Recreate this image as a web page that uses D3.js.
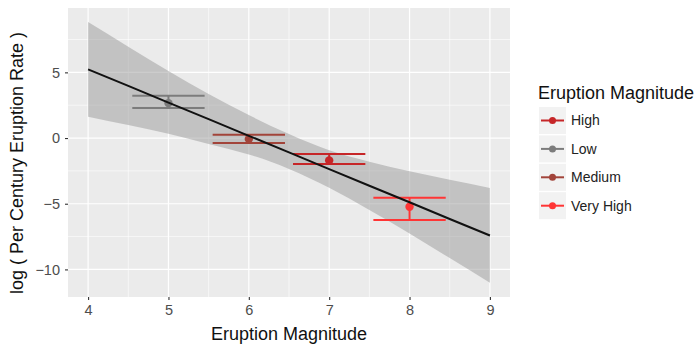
<!DOCTYPE html>
<html>
<head>
<meta charset="utf-8">
<script src="https://cdn.jsdelivr.net/npm/d3@7"></script>
<style>
  body { margin: 0; background: #fff; }
  svg { display: block; font-family: "Liberation Sans", Arial, sans-serif; }
</style>
</head>
<body>
<svg id="chart" width="694" height="349"></svg>
<script>
// categories and per-category error bars
const categories = ["High", "Low", "Medium", "Very High"];
const magnitude = [7, 5, 6, 8];
const rateMean = [-1.71, 2.66, -0.08, -5.23];
const rateLow = [-1.98, 2.28, -0.38, -6.24];
const rateHigh = [-1.22, 3.22, 0.25, -4.54];
const barColors = ["#c62628", "#7c7c7c", "#a2443a", "#ff3535"];

// fitted line and its ribbon, read at half-magnitude steps
const fitX = [4, 4.5, 5, 5.5, 6, 6.5, 7, 7.5, 8, 8.5, 9];
const fitY = [5.23, 3.97, 2.70, 1.44, 0.17, -1.09, -2.36, -3.63, -4.89, -6.16, -7.42];
const fitLower = [1.63, 0.99, 0.32, -0.45, -1.25, -2.35, -3.79, -5.48, -7.27, -9.14, -11.02];
const fitUpper = [8.83, 6.95, 5.10, 3.35, 1.75, 0.30, -0.93, -1.80, -2.53, -3.18, -3.80];

const xTicks = [4, 5, 6, 7, 8, 9];
const xMinor = [4.5, 5.5, 6.5, 7.5, 8.5];
const yTicks = [-10, -5, 0, 5];
const yMinor = [-7.5, -2.5, 2.5, 7.5];

const panel = { left: 68, right: 510, top: 8, bottom: 297 };
const svg = d3.select('#chart');

const x = d3.scaleLinear().domain([3.75, 9.25]).range([panel.left, panel.right]);
const y = d3.scaleLinear().domain([-12.1, 9.9]).range([panel.bottom, panel.top]);
const color = d3.scaleOrdinal().domain(categories).range(barColors);

// panel background + grid
svg.append('rect')
    .attr('x', panel.left).attr('y', panel.top)
    .attr('width', panel.right - panel.left)
    .attr('height', panel.bottom - panel.top)
    .attr('fill', '#ebebeb');

const grid = svg.append('g');
grid.selectAll('.ymin').data(yMinor).enter().append('line')
    .attr('x1', panel.left).attr('x2', panel.right)
    .attr('y1', d => y(d)).attr('y2', d => y(d))
    .attr('stroke', '#fff').attr('stroke-width', 0.6);
grid.selectAll('.xmin').data(xMinor).enter().append('line')
    .attr('y1', panel.top).attr('y2', panel.bottom)
    .attr('x1', d => x(d)).attr('x2', d => x(d))
    .attr('stroke', '#fff').attr('stroke-width', 0.6);
grid.selectAll('.ymaj').data(yTicks).enter().append('line')
    .attr('x1', panel.left).attr('x2', panel.right)
    .attr('y1', d => y(d)).attr('y2', d => y(d))
    .attr('stroke', '#fff').attr('stroke-width', 1.2);
grid.selectAll('.xmaj').data(xTicks).enter().append('line')
    .attr('y1', panel.top).attr('y2', panel.bottom)
    .attr('x1', d => x(d)).attr('x2', d => x(d))
    .attr('stroke', '#fff').attr('stroke-width', 1.2);

// ribbon first, so the bars stay vivid on top of it
const fit = fitX.map((v, i) => ({ x: v, y: fitY[i], lo: fitLower[i], hi: fitUpper[i] }));
svg.append('path')
    .datum(fit)
    .attr('fill', '#999999')
    .attr('fill-opacity', 0.5)
    .attr('d', d3.area()
        .curve(d3.curveNatural)
        .x(d => x(d.x))
        .y0(d => y(d.lo))
        .y1(d => y(d.hi)));

// error bars
const bars = categories.map((c, i) => ({
    cat: c, x: magnitude[i], y: rateMean[i], lo: rateLow[i], hi: rateHigh[i]
}));
const halfW = 0.45;
const eb = svg.append('g').selectAll('g').data(bars).enter().append('g')
    .attr('stroke', d => color(d.cat))
    .attr('stroke-width', 2);
eb.append('line')
    .attr('x1', d => x(d.x - halfW)).attr('x2', d => x(d.x + halfW))
    .attr('y1', d => y(d.hi)).attr('y2', d => y(d.hi));
eb.append('line')
    .attr('x1', d => x(d.x - halfW)).attr('x2', d => x(d.x + halfW))
    .attr('y1', d => y(d.lo)).attr('y2', d => y(d.lo));
eb.append('line')
    .attr('x1', d => x(d.x)).attr('x2', d => x(d.x))
    .attr('y1', d => y(d.lo)).attr('y2', d => y(d.hi));

svg.append('g').selectAll('circle').data(bars).enter().append('circle')
    .attr('cx', d => x(d.x)).attr('cy', d => y(d.y))
    .attr('r', 4.2)
    .attr('fill', d => color(d.cat));

svg.append('path')
    .datum(fit)
    .attr('fill', 'none')
    .attr('stroke', '#111')
    .attr('stroke-width', 2)
    .attr('d', d3.line().x(d => x(d.x)).y(d => y(d.y)));

// axes
const xAxis = svg.append('g')
    .attr('transform', `translate(0,${panel.bottom})`)
    .call(d3.axisBottom(x).tickValues(xTicks).tickSize(3).tickPadding(5)
        .tickFormat(d3.format('d')));
const yAxis = svg.append('g')
    .attr('transform', `translate(${panel.left},0)`)
    .call(d3.axisLeft(y).tickValues(yTicks).tickSize(3).tickPadding(5)
        .tickFormat(d3.format('d')));
[xAxis, yAxis].forEach(a => {
    a.select('.domain').remove();
    a.selectAll('line').attr('stroke', '#333').attr('stroke-width', 1.1);
    a.selectAll('text').attr('fill', '#4d4d4d').style('font-size', '14.5px')
        .style('font-family', '"Liberation Sans", Arial, sans-serif');
});

svg.append('text')
    .attr('x', (panel.left + panel.right) / 2).attr('y', 340)
    .attr('text-anchor', 'middle')
    .style('font-size', '18px')
    .attr('fill', '#111')
    .text('Eruption Magnitude');

svg.append('text')
    .attr('transform', 'translate(23,163) rotate(-90)')
    .attr('text-anchor', 'middle')
    .style('font-size', '18px')
    .attr('fill', '#111')
    .text('log ( Per Century Eruption Rate )');

// legend
const legend = svg.append('g').attr('transform', 'translate(538,0)');
legend.append('text')
    .attr('x', 0).attr('y', 99)
    .style('font-size', '18px')
    .attr('fill', '#111')
    .text('Eruption Magnitude');

const keys = legend.selectAll('.key').data(categories).enter().append('g')
    .attr('transform', (d, i) => `translate(0,${107 + i * 28.4})`);
keys.append('rect')
    .attr('x', 1).attr('width', 27).attr('height', 27)
    .attr('fill', '#f2f2f2');
keys.append('line')
    .attr('x1', 3).attr('x2', 26).attr('y1', 13.5).attr('y2', 13.5)
    .attr('stroke', d => color(d)).attr('stroke-width', 2);
keys.append('circle')
    .attr('cx', 14.5).attr('cy', 13.5).attr('r', 3.5)
    .attr('fill', d => color(d));
keys.append('text')
    .attr('x', 33).attr('y', 13.5).attr('dy', '0.35em')
    .style('font-size', '14px')
    .attr('fill', '#222')
    .text(d => d);
</script>
</body>
</html>
